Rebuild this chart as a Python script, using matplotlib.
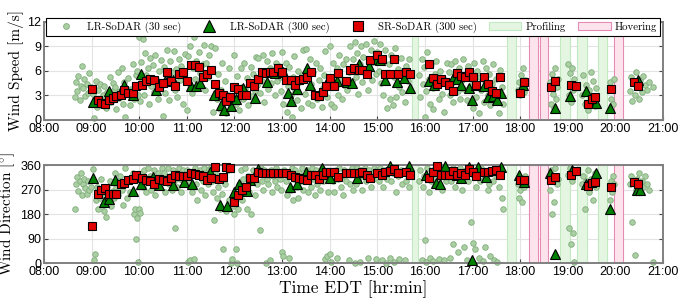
import matplotlib
matplotlib.use('Agg')
import matplotlib.pyplot as plt
from matplotlib.lines import Line2D
from matplotlib.patches import Patch

plt.rcParams['font.family'] = ['Liberation Sans', 'DejaVu Sans']
plt.rcParams['mathtext.fontset'] = 'cm'

# LR-SoDAR 30 sec (decimal hours, m/s, deg)
lr30_time = [
    8.65, 8.68, 8.70, 8.72, 8.75, 8.77, 8.80, 8.82, 8.85, 8.87, 8.90, 8.93, 8.95, 8.98,
    9.02, 9.04, 9.07, 9.09, 9.11, 9.13, 9.16, 9.18, 9.20, 9.23, 9.25, 9.27, 9.30, 9.32, 9.35, 9.38, 9.41, 9.44, 9.47,
    9.50, 9.52, 9.55, 9.58, 9.60, 9.63, 9.66, 9.69, 9.71, 9.74, 9.77, 9.80, 9.83, 9.86, 9.88, 9.91, 9.94, 9.96, 9.98,
    10.0, 10.02, 10.04, 10.06, 10.08, 10.1, 10.13, 10.15, 10.18, 10.2, 10.23, 10.25, 10.28, 10.3, 10.33, 10.36, 10.39, 10.42, 10.45, 10.48,
    10.5, 10.53, 10.55, 10.58, 10.6, 10.63, 10.65, 10.68, 10.7, 10.73, 10.76, 10.78, 10.8, 10.83, 10.86, 10.88, 10.91, 10.94, 10.97,
    11.0, 11.02, 11.05, 11.07, 11.1, 11.12, 11.15, 11.17, 11.2, 11.22, 11.25, 11.28, 11.3, 11.33, 11.36, 11.38, 11.41, 11.44, 11.47,
    11.5, 11.53, 11.55, 11.58, 11.6, 11.63, 11.66, 11.69, 11.71, 11.74, 11.77, 11.8, 11.83, 11.86, 11.89, 11.92, 11.95, 11.98,
    12.0, 12.03, 12.05, 12.08, 12.1, 12.13, 12.15, 12.18, 12.2, 12.23, 12.26, 12.28, 12.31, 12.34, 12.37, 12.4, 12.43, 12.46, 12.48,
    12.5, 12.53, 12.55, 12.58, 12.6, 12.63, 12.66, 12.68, 12.71, 12.74, 12.76, 12.79, 12.82, 12.85, 12.87, 12.9, 12.93, 12.96, 12.98,
    13.0, 13.03, 13.05, 13.08, 13.1, 13.13, 13.15, 13.18, 13.2, 13.23, 13.26, 13.28, 13.31, 13.34, 13.36, 13.39, 13.42, 13.45, 13.48,
    13.5, 13.53, 13.55, 13.58, 13.6, 13.63, 13.66, 13.69, 13.71, 13.74, 13.77, 13.8, 13.83, 13.86, 13.88, 13.91, 13.94, 13.97,
    14.0, 14.03, 14.05, 14.08, 14.1, 14.13, 14.15, 14.18, 14.2, 14.23, 14.26, 14.28, 14.31, 14.34, 14.37, 14.4, 14.43, 14.46, 14.48,
    14.5, 14.53, 14.55, 14.58, 14.6, 14.63, 14.66, 14.68, 14.71, 14.74, 14.77, 14.8, 14.83, 14.86, 14.88, 14.91, 14.94, 14.97,
    15.0, 15.03, 15.05, 15.08, 15.1, 15.13, 15.16, 15.18, 15.21, 15.24, 15.26, 15.29, 15.32, 15.35, 15.37, 15.4, 15.43, 15.46, 15.49,
    15.52, 15.55, 15.58, 15.61, 15.64, 15.67,
    15.88, 15.9, 15.93, 15.95, 15.98, 16.0, 16.03, 16.05, 16.08, 16.1, 16.13, 16.16, 16.18, 16.21, 16.24, 16.26, 16.29, 16.32, 16.35,
    16.38, 16.41, 16.44, 16.47,
    16.5, 16.52, 16.55, 16.58, 16.6, 16.63, 16.66, 16.69, 16.71, 16.74, 16.77, 16.8, 16.83, 16.86, 16.88, 16.91, 16.94, 16.97,
    17.0, 17.03, 17.05, 17.08, 17.1, 17.13, 17.16, 17.18, 17.21, 17.24, 17.26, 17.29, 17.32, 17.35, 17.37, 17.4, 17.43, 17.46, 17.49,
    17.52, 17.55, 17.58, 17.61, 17.64,
    17.95, 17.97, 18.0, 18.02, 18.04, 18.07, 18.09, 18.11,
    18.63, 18.65, 18.67, 18.69, 18.71, 18.73, 18.75, 18.77, 18.79,
    19.0, 19.02, 19.04, 19.06, 19.08, 19.1, 19.12, 19.14,
    19.3, 19.33, 19.36, 19.39, 19.42, 19.45, 19.48, 19.51, 19.54, 19.57, 19.6,
    19.88, 19.9, 19.93, 19.95, 19.97,
    20.3, 20.33, 20.36, 20.38, 20.41, 20.44, 20.46, 20.49, 20.52, 20.55, 20.58, 20.62, 20.66, 20.7, 20.8,
]
lr30_speed = [
    2.8, 4.6, 3.5, 5.4, 2.4, 4.2, 6.6, 3.9, 5.0, 2.9, 4.4, 3.3, 5.7, 4.0,
    3.2, 0.2, 2.1, 4.8, 1.6, 3.7, 2.5, 4.4, 1.8, 3.0, 2.3, 4.1, 1.5, 3.4, 2.8, 5.2, 2.2, 4.5, 3.6,
    4.0, 1.3, 5.9, 2.7, 3.5, 6.3, 2.0, 4.6, 0.3, 3.2, 5.1, 1.8, 3.8, 6.8, 2.5, 4.3, 5.5, 6.0, 3.0,
    10.1, 2.3, 7.1, 4.8, 9.9, 3.1, 8.2, 5.5, 6.3, 2.0, 7.6, 4.1, 6.7, 3.4, 8.0, 5.0, 2.6, 6.0, 7.3, 4.3,
    0.5, 6.5, 3.3, 8.6, 5.2, 2.4, 7.2, 4.4, 5.8, 8.4, 3.6, 6.2, 2.8, 7.5, 4.9, 6.6, 1.9, 5.4, 8.1,
    1.2, 7.8, 4.5, 9.0, 3.3, 6.4, 10.1, 5.0, 7.2, 3.9, 8.3, 5.7, 4.2, 6.9, 9.2, 3.6, 7.0, 5.3, 8.0,
    9.0, 6.2, 1.0, 4.4, 8.8, 2.5, 5.6, 1.3, 3.7, 7.0, 2.1, 4.8, 0.9, 3.0, 6.3, 2.6, 1.6, 4.2,
    7.9, 2.0, 5.4, 3.3, 1.2, 6.3, 4.0, 2.6, 7.0, 3.8, 5.1, 1.8, 4.6, 6.5, 2.9, 5.6, 3.5, 7.7, 4.3,
    7.6, 3.3, 6.0, 4.8, 8.0, 2.2, 5.5, 7.2, 3.8, 6.4, 4.5, 8.2, 5.8, 3.0, 7.0, 4.7, 6.6, 5.2, 3.5,
    8.3, 2.0, 5.6, 7.0, 1.0, 4.2, 6.5, 3.0, 0.3, 5.2, 7.8, 3.7, 2.4, 6.0, 4.6, 1.5, 5.5, 8.5, 3.2,
    8.7, 6.0, 2.1, 7.5, 4.4, 1.8, 5.8, 3.2, 7.0, 2.5, 4.9, 6.3, 1.6, 3.9, 5.5, 8.4, 2.8, 4.6,
    9.1, 2.0, 5.3, 7.0, 1.6, 4.1, 6.4, 3.1, 8.0, 5.0, 2.6, 6.8, 4.3, 7.5, 3.6, 5.8, 9.0, 4.7, 6.2,
    7.5, 9.5, 5.3, 8.2, 3.2, 6.8, 9.0, 4.6, 7.7, 5.9, 9.3, 3.7, 6.5, 8.5, 4.9, 7.1, 9.6, 5.6,
    8.3, 6.0, 9.3, 4.5, 7.5, 3.0, 8.6, 5.6, 1.5, 6.8, 2.5, 7.9, 1.8, 5.2, 8.8, 2.8, 6.2, 4.0, 7.6,
    3.4, 5.9, 2.2, 6.6, 4.8, 7.4,
    5.5, 2.8, 7.5, 4.4, 6.5, 0.3, 3.5, 8.3, 5.0, 2.0, 6.8, 3.9, 1.3, 5.6, 7.2, 4.6, 2.5, 6.0, 3.2,
    5.1, 1.0, 4.4, 7.0,
    5.9, 3.0, 6.8, 4.6, 2.2, 7.2, 5.4, 3.5, 6.3, 2.6, 4.9, 7.5, 3.8, 5.6, 2.4, 6.6, 4.2, 5.0,
    1.5, 7.0, 4.2, 2.8, 6.0, 0.8, 5.3, 3.6, 7.2, 2.2, 4.8, 6.4, 3.0, 5.6, 1.8, 4.4, 6.8, 2.6, 5.0,
    3.4, 0.9, 6.1, 4.0, 2.0,
    3.6, 4.6, 3.0, 5.5, 4.1, 6.4, 3.4, 4.9,
    4.6, 2.0, 5.6, 3.2, 1.5, 6.4, 2.6, 4.0, 5.0,
    6.9, 3.0, 5.7, 2.2, 6.4, 4.4, 3.6, 5.0,
    3.0, 5.5, 2.0, 4.3, 1.2, 3.6, 5.8, 2.6, 4.8, 1.7, 3.9,
    4.6, 2.6, 3.9, 2.0, 5.0,
    3.5, 5.3, 2.3, 4.5, 3.0, 5.8, 4.0, 2.6, 4.9, 3.4, 5.4, 4.3, 3.7, 4.6, 4.0,
]
lr30_dir = [
    200, 290, 315, 265, 300, 330, 250, 290, 310, 275, 255, 300, 270, 280,
    345, 10, 35, 230, 280, 200, 260, 240, 310, 215, 190, 250, 170, 280, 230, 300, 210, 265, 240,
    330, 280, 250, 300, 320, 270, 215, 290, 350, 240, 300, 260, 310, 330, 180, 200, 90, 165, 3,
    200, 185, 300, 330, 280, 340, 310, 260, 350, 300, 320, 270, 290, 340, 250, 310, 330, 280, 300, 350,
    300, 330, 260, 310, 350, 290, 320, 270, 340, 300, 130, 330, 280, 350, 310, 260, 340, 300, 320,
    340, 5, 300, 12, 260, 330, 15, 350, 290, 230, 320, 340, 270, 300, 350, 250, 330, 290, 345,
    350, 300, 260, 160, 330, 240, 280, 200, 310, 255, 50, 290, 190, 340, 230, 0, 15, 210,
    180, 50, 0, 200, 290, 340, 230, 310, 270, 350, 200, 320, 260, 180, 300, 340, 250, 330, 290,
    330, 120, 350, 300, 270, 340, 0, 310, 290, 10, 340, 260, 320, 300, 350, 280, 330, 310, 270,
    40, 25, 340, 300, 250, 320, 20, 270, 350, 230, 310, 340, 280, 240, 330, 300, 350, 270, 320,
    300, 340, 260, 330, 280, 350, 310, 250, 340, 290, 320, 270, 350, 300, 330, 15, 25, 260,
    35, 5, 330, 300, 260, 340, 20, 310, 350, 280, 320, 250, 340, 300, 330, 10, 290, 350, 270,
    330, 0, 290, 350, 310, 5, 340, 270, 320, 350, 300, 20, 340, 280, 330, 310, 350, 15,
    340, 300, 350, 320, 10, 280, 340, 0, 310, 350, 20, 300, 330, 5, 350, 260, 320, 15, 340,
    290, 330, 10, 300, 350, 280,
    300, 340, 10, 280, 320, 85, 5, 350, 260, 20, 300, 340, 8, 310, 290, 330, 15, 350, 270,
    320, 12, 300, 340,
    330, 20, 300, 350, 70, 280, 330, 40, 310, 350, 270, 320, 60, 340, 10, 300, 330, 150,
    75, 320, 50, 280, 340, 20, 300, 350, 8, 310, 60, 330, 270, 290, 25, 340, 300, 10, 320,
    5, 280, 330, 240, 200,
    290, 240, 270, 310, 225, 300, 280, 320,
    270, 340, 180, 300, 225, 350, 320, 290, 310,
    325, 130, 350, 70, 300, 340, 110, 4,
    290, 320, 200, 300, 340, 260, 310, 290, 230, 330, 280,
    230, 300, 260, 320, 290,
    290, 320, 150, 300, 30, 270, 310, 330, 260, 300, 280, 320, 290, 270, 5,
]

# LR-SoDAR 300 sec (visible markers)
lr300_speed_time = ['09:02', '09:22', '09:41', '09:52', '10:02', '10:21', '10:32', '10:42', '11:05', '11:11',
                    '11:17', '11:34', '11:43', '11:47', '11:56', '12:02', '12:11', '12:26', '12:41', '12:51',
                    '13:01', '13:07', '13:11', '13:19', '13:31', '13:35', '13:58', '14:09', '14:22', '14:28',
                    '14:37', '14:50', '14:59', '15:04', '15:10', '15:25', '15:34', '15:41', '16:05', '16:11',
                    '16:35', '16:40', '16:46', '16:55', '16:59', '17:05', '17:15', '17:20', '17:26', '17:31',
                    '17:36', '18:04', '18:44', '19:03', '19:23', '19:35', '19:53', '20:28']
lr300_speed = [2.2, 3.5, 4.3, 3.0, 5.6, 3.7, 4.7, 4.9, 4.1, 4.1,
               4.5, 3.0, 1.8, 1.2, 1.7, 2.6, 3.95, 2.7, 4.6, 5.7,
               5.8, 3.3, 2.3, 3.75, 6.3, 4.3, 4.9, 4.7, 4.6, 4.5,
               6.9, 6.6, 7.4, 7.3, 4.9, 4.6, 5.1, 3.9, 4.7, 4.3,
               5.1, 5.0, 4.3, 3.9, 2.4, 4.3, 4.2, 2.8, 2.9, 2.4,
               3.3, 4.3, 1.4, 2.9, 3.5, 2.1, 1.4, 4.9]
lr300_dir_time = ['09:02', '09:16', '09:22', '09:30', '09:52', '10:02', '10:17', '10:25', '10:42', '10:56',
                  '11:07', '11:29', '11:42', '11:51', '11:59', '12:06', '12:16', '12:20', '12:30', '13:10',
                  '13:19', '13:30', '13:50', '14:01', '14:34', '15:16', '15:40', '16:01', '16:14', '16:19',
                  '16:25', '16:40', '16:46', '16:55', '16:59', '17:07', '17:17', '17:36', '17:59', '18:05',
                  '18:38', '18:44', '19:05', '19:23', '19:35', '19:53', '20:27', '20:31']
lr300_dir = [311, 225, 237, 305, 265, 292, 317, 287, 287, 299,
             292, 335, 215, 209, 261, 290, 265, 305, 344, 278,
             292, 335, 348, 311, 311, 358, 356, 323, 295, 292,
             356, 323, 311, 352, 10, 352, 317, 352, 323, 299,
             329, 34, 341, 290, 331, 200, 268, 270]

# SR-SoDAR 300 sec
sr_time = ['09:00', '09:08', '09:12', '09:17', '09:22', '09:27', '09:31', '09:37', '09:41', '09:46', '09:52', '09:56',
           '10:04', '10:09', '10:14', '10:19', '10:25', '10:30', '10:35', '10:40', '10:45', '10:50', '10:55',
           '11:00', '11:05', '11:10', '11:15', '11:20', '11:25', '11:30', '11:35', '11:40', '11:45', '11:49', '11:55',
           '12:00', '12:05', '12:10', '12:15', '12:19', '12:25', '12:30', '12:35', '12:40', '12:45', '12:49', '12:55',
           '13:00', '13:05', '13:11', '13:16', '13:21', '13:27', '13:31', '13:36', '13:41', '13:46', '13:51', '13:56',
           '14:01', '14:05',
           '14:10', '14:21', '14:26', '14:31', '14:37', '14:41', '14:47', '14:51', '15:00', '15:06', '15:10', '15:16',
           '15:21', '15:26', '15:36', '15:41',
           '16:05', '16:10', '16:15', '16:20', '16:25', '16:30', '16:35', '16:40', '16:45', '16:50', '16:55', '17:00',
           '17:05', '17:15', '17:20', '17:25', '17:30', '17:35',
           '18:00', '18:05', '18:39', '18:44', '19:04', '19:10', '19:25', '19:30', '19:34', '19:55', '20:23', '20:29']
sr_speed = [3.8, 2.45, 2.1, 1.9, 2.45, 2.7, 2.9, 3.1, 3.7, 3.3, 3.35, 4.2,
            4.3, 4.7, 5.0, 4.9, 4.0, 4.5, 5.9, 4.8, 4.2, 5.6, 5.8,
            4.8, 6.7, 6.7, 6.5, 5.3, 5.6, 6.1, 4.4, 3.3, 3.0, 2.3, 2.8,
            4.0, 3.8, 3.1, 3.1, 4.5, 4.2, 5.0, 5.9, 5.7, 5.8, 5.8, 6.3,
            5.9, 4.9, 4.9, 4.3, 4.9, 5.0, 5.2, 5.9, 3.1, 2.9, 3.4, 4.2,
            5.1, 4.1,
            5.7, 4.7, 6.1, 6.4, 6.1, 6.1, 5.6, 7.3, 8.0, 7.5, 5.6, 5.6,
            7.5, 5.6, 5.9, 5.6,
            6.8, 5.1, 4.4, 5.0, 4.6, 4.3, 3.5, 5.7, 5.4, 5.2, 5.8, 5.2,
            4.3, 5.2, 4.4, 3.5, 3.3, 5.2,
            3.3, 4.6, 4.0, 4.8, 4.3, 4.1, 2.0, 2.5, 2.8, 3.8, 4.6, 4.2]
sr_dir = [135, 252, 268, 274, 253, 253, 255, 290, 295, 305, 310, 325,
          313, 305, 302, 292, 307, 305, 302, 313, 325, 319, 319,
          319, 329, 327, 325, 319, 305, 311, 351, 307, 317, 353, 349,
          225, 249, 268, 280, 314, 314, 335, 331, 329, 329, 329, 329,
          329, 329, 325, 317, 311, 307, 305, 325, 323, 307, 323, 335,
          335, 335,
          317, 329, 329, 329, 329, 333, 325, 313, 329, 325, 333, 339,
          345, 329, 333, 325,
          313, 333, 356, 325, 325, 323, 338, 325, 329, 325, 345, 333,
          319, 333, 333, 338, 341, 323,
          305, 305, 305, 317, 323, 339, 283, 295, 296, 280, 298, 292]

profiling = [(15.72, 15.86), (17.72, 17.91), (18.84, 19.04), (19.20, 19.40), (19.64, 19.83)]
hovering = [(18.19, 18.38), (18.42, 18.58), (19.98, 20.16)]

hours = list(range(8, 22))
hour_labels = ['%02d:00' % h for h in hours]


def hrs(s):
    h, m = s.split(':')
    return int(h) + int(m) / 60.0


cm_font = 'cmr10'

fig = plt.figure(figsize=(6.82, 2.99), dpi=100)
ax1 = fig.add_axes([0.0645, 0.599, 0.9076, 0.328])
ax2 = fig.add_axes([0.0645, 0.120, 0.9076, 0.328])

lr30_style = dict(ls='none', marker='o', ms=4.0, mfc='#a9cfa3', mec='#7fac7a', mew=0.6)
lr300_style = dict(ls='none', marker='^', ms=7.5, mfc='#008000', mec='k', mew=0.8)
sr_style = dict(ls='none', marker='s', ms=6, mfc='#e00000', mec='k', mew=0.8)
prof_style = dict(facecolor='#e4f6e2', edgecolor='#c3e9c0', lw=0.8)
hov_style = dict(facecolor='#fde4ec', edgecolor='#e58bb6', lw=0.8)

panels = [
    (ax1, lr30_speed, lr300_speed_time, lr300_speed, sr_speed, (0, 12), [0, 3, 6, 9, 12], 'Wind Speed [m/s]'),
    (ax2, lr30_dir, lr300_dir_time, lr300_dir, sr_dir, (0, 360), [0, 90, 180, 270, 360],
     r'Wind Direction [$^{\circ}$]'),
]

for ax, lr30_v, t300, v300, sr_v, ylim, yticks, ylabel in panels:
    for s, e in profiling:
        ax.axvspan(s, e, zorder=1, **prof_style)
    for s, e in hovering:
        ax.axvspan(s, e, zorder=1, **hov_style)
    ax.plot(lr30_time, lr30_v, zorder=2, clip_on=False, **lr30_style)
    ax.plot([hrs(t) for t in t300], v300, zorder=3, clip_on=False, **lr300_style)
    ax.plot([hrs(t) for t in sr_time], sr_v, zorder=4, clip_on=False, **sr_style)
    ax.set_xlim(8, 21)
    ax.set_ylim(*ylim)
    ax.set_xticks(hours)
    ax.set_xticklabels(hour_labels)
    ax.set_yticks(yticks)
    ax.grid(color='#e3e3e3', lw=0.8)
    ax.set_axisbelow(True)
    ax.tick_params(direction='in', right=True, length=3, labelsize=9, color='#444444', pad=2)
    for sp in ax.spines.values():
        sp.set_color('#808080')
        sp.set_linewidth(1.4)
    ax.set_ylabel(ylabel, fontfamily=cm_font, fontsize=11, labelpad=2)

ax2.set_xlabel('Time EDT [hr:min]', fontfamily=cm_font, fontsize=12.5, labelpad=2)

handles = [
    Line2D([], [], **dict(lr30_style, ms=4.2)),
    Line2D([], [], **dict(lr300_style, ms=8)),
    Line2D([], [], **dict(sr_style, ms=6.5)),
    Patch(**prof_style),
    Patch(**hov_style),
]
labels = ['LR-SoDAR (30 sec)', 'LR-SoDAR (300 sec)', 'SR-SoDAR (300 sec)', 'Profiling', 'Hovering']
leg = ax1.legend(handles, labels, loc='upper left', bbox_to_anchor=(0.004, 1.035, 0.992, 0),
                 mode='expand', ncol=5, prop={'family': cm_font, 'size': 7.8}, fancybox=False,
                 edgecolor='k', framealpha=1, handlelength=3.0, handletextpad=0.4,
                 columnspacing=0.8, borderpad=0.3, borderaxespad=0)
leg.get_frame().set_linewidth(0.8)
leg.set_zorder(10)

fig.savefig('out.png', dpi=100)
